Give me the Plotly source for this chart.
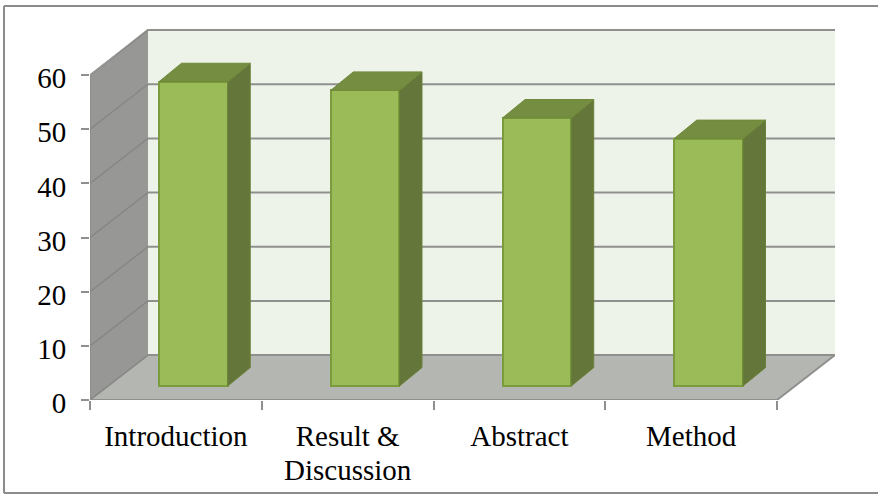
import plotly.graph_objects as go

categories = ["Introduction", "Result &", "Abstract", "Method"]
second_line = ["", "Discussion", "", ""]
values = [56.2, 54.6, 49.5, 45.7]
y_ticks = [0, 10, 20, 30, 40, 50, 60]

# oblique projection, in axis units
WALL_DX, WALL_DY = 0.3377, 8.3
BAR_DX, BAR_DY = 0.131, 3.4
BAR_OFF_X, BAR_OFF_Y = 0.102, 2.58
BAR_W = 0.40
X_MAX, Y_MAX = 4 + WALL_DX, 60 + WALL_DY + 0.2

PLOT_L, PLOT_R, PLOT_T, PLOT_B = 90, 835, 29, 400
GRID = "#8f908d"


def poly(xs, ys, fill):
    path = "M " + " L ".join(f"{a},{b}" for a, b in zip(xs, ys)) + " Z"
    return dict(type="path", path=path, xref="x", yref="y", fillcolor=fill,
                line=dict(color=fill, width=0), layer="below")


shapes = [
    poly([0, WALL_DX, WALL_DX, 0], [0, WALL_DY, Y_MAX, 60], "#979896"),
    poly([WALL_DX, X_MAX, X_MAX, WALL_DX], [WALL_DY, WALL_DY, Y_MAX, Y_MAX], "#eef3ea"),
    poly([0, 4, X_MAX, WALL_DX], [0, 0, WALL_DY, WALL_DY], "#b4b6b1"),
]
for t in y_ticks:
    shapes.append(dict(type="line", xref="x", yref="y", x0=0, y0=t, x1=WALL_DX, y1=t + WALL_DY,
                       line=dict(color="#868785", width=1.5), layer="below"))
    shapes.append(dict(type="line", xref="x", yref="y", x0=WALL_DX, y0=t + WALL_DY, x1=X_MAX, y1=t + WALL_DY,
                       line=dict(color=GRID, width=2), layer="below"))
shapes.append(dict(type="line", xref="x", yref="y", x0=0, y0=0, x1=4, y1=0,
                   line=dict(color=GRID, width=2), layer="below"))
shapes.append(dict(type="line", xref="x", yref="y", x0=4, y0=0, x1=X_MAX, y1=WALL_DY,
                   line=dict(color=GRID, width=2), layer="below"))
shapes.append(dict(type="line", xref="x", yref="y", x0=0, y0=0, x1=0, y1=60,
                   line=dict(color="#8a8b89", width=1.5), layer="below"))
shapes.append(dict(type="line", xref="x", yref="y", x0=0, y0=60, x1=WALL_DX, y1=Y_MAX,
                   line=dict(color="#a0a19f", width=1), layer="below"))

# outer frame: left, top and bottom edges
def px(x):
    return (x - PLOT_L) / (PLOT_R - PLOT_L)
def py(y):
    return (PLOT_B - y) / (PLOT_B - PLOT_T)
for x0, y0, x1, y1 in [(4, 6, 4, 493), (4, 6, 878, 6), (4, 493, 878, 493)]:
    shapes.append(dict(type="line", xref="paper", yref="paper", x0=px(x0), y0=py(y0), x1=px(x1), y1=py(y1),
                       line=dict(color="#8c8c8c", width=2), layer="above"))

centers = [i + 0.5 for i in range(len(categories))]
fig = go.Figure()
bar_x = [c + BAR_OFF_X for c in centers]
bar_base = [BAR_OFF_Y] * len(values)

for x, v, base in zip(bar_x, values, bar_base):
    l, r = x - BAR_W / 2, x + BAR_W / 2
    top = base + v
    fig.add_trace(go.Scatter(x=[r, r + BAR_DX, r + BAR_DX, r, r], y=[base, base + BAR_DY, top + BAR_DY, top, base],
                             mode="lines", fill="toself", fillcolor="#64763a",
                             line=dict(color="#6a8238", width=1), hoverinfo="skip", showlegend=False))
    fig.add_trace(go.Scatter(x=[l, l + BAR_DX, r + BAR_DX, r, l], y=[top, top + BAR_DY, top + BAR_DY, top, top],
                             mode="lines", fill="toself", fillcolor="#758d40",
                             line=dict(color="#6f8a3a", width=1), hoverinfo="skip", showlegend=False))

fig.add_trace(go.Bar(x=bar_x, y=values, base=bar_base, width=BAR_W,
                     marker=dict(color="#9bbb59", line=dict(color="#7b9c3c", width=2)), showlegend=False))

annotations = [dict(x=c, xref="x", y=py(470), yref="paper", text=t, showarrow=False, yanchor="middle",
                    font=dict(family="Liberation Serif", size=29, color="#000000"))
               for c, t in zip(centers, second_line) if t]

fig.update_layout(
    width=878, height=494, margin=dict(l=PLOT_L, r=878 - PLOT_R, t=PLOT_T, b=494 - PLOT_B, autoexpand=False),
    paper_bgcolor="white", plot_bgcolor="white", shapes=shapes, bargap=0, annotations=annotations,
    font=dict(family="Liberation Serif", color="#000000"),
    xaxis=dict(range=[0, X_MAX], tickmode="array", tickvals=centers, ticktext=categories,
               ticks="outside", ticklen=10, tickcolor="rgba(0,0,0,0)", tickfont=dict(size=29),
               showgrid=False, zeroline=False, showline=False, automargin=False,
               minor=dict(tickmode="array", tickvals=[0, 1, 2, 3, 4], ticks="outside", ticklen=9,
                          tickwidth=1.5, tickcolor=GRID, showgrid=False)),
    yaxis=dict(range=[0, Y_MAX], tickmode="array", tickvals=y_ticks, ticks="outside", ticklen=8,
               tickwidth=1.5, tickcolor=GRID, tickfont=dict(size=29), ticklabelstandoff=9, ticklabelshift=3,
               showgrid=False, zeroline=False, showline=False, automargin=False),
)
fig.write_html("out.html", config=dict(displayModeBar=False),
               post_script="document.body.style.margin='0';document.body.style.overflow='hidden';")
